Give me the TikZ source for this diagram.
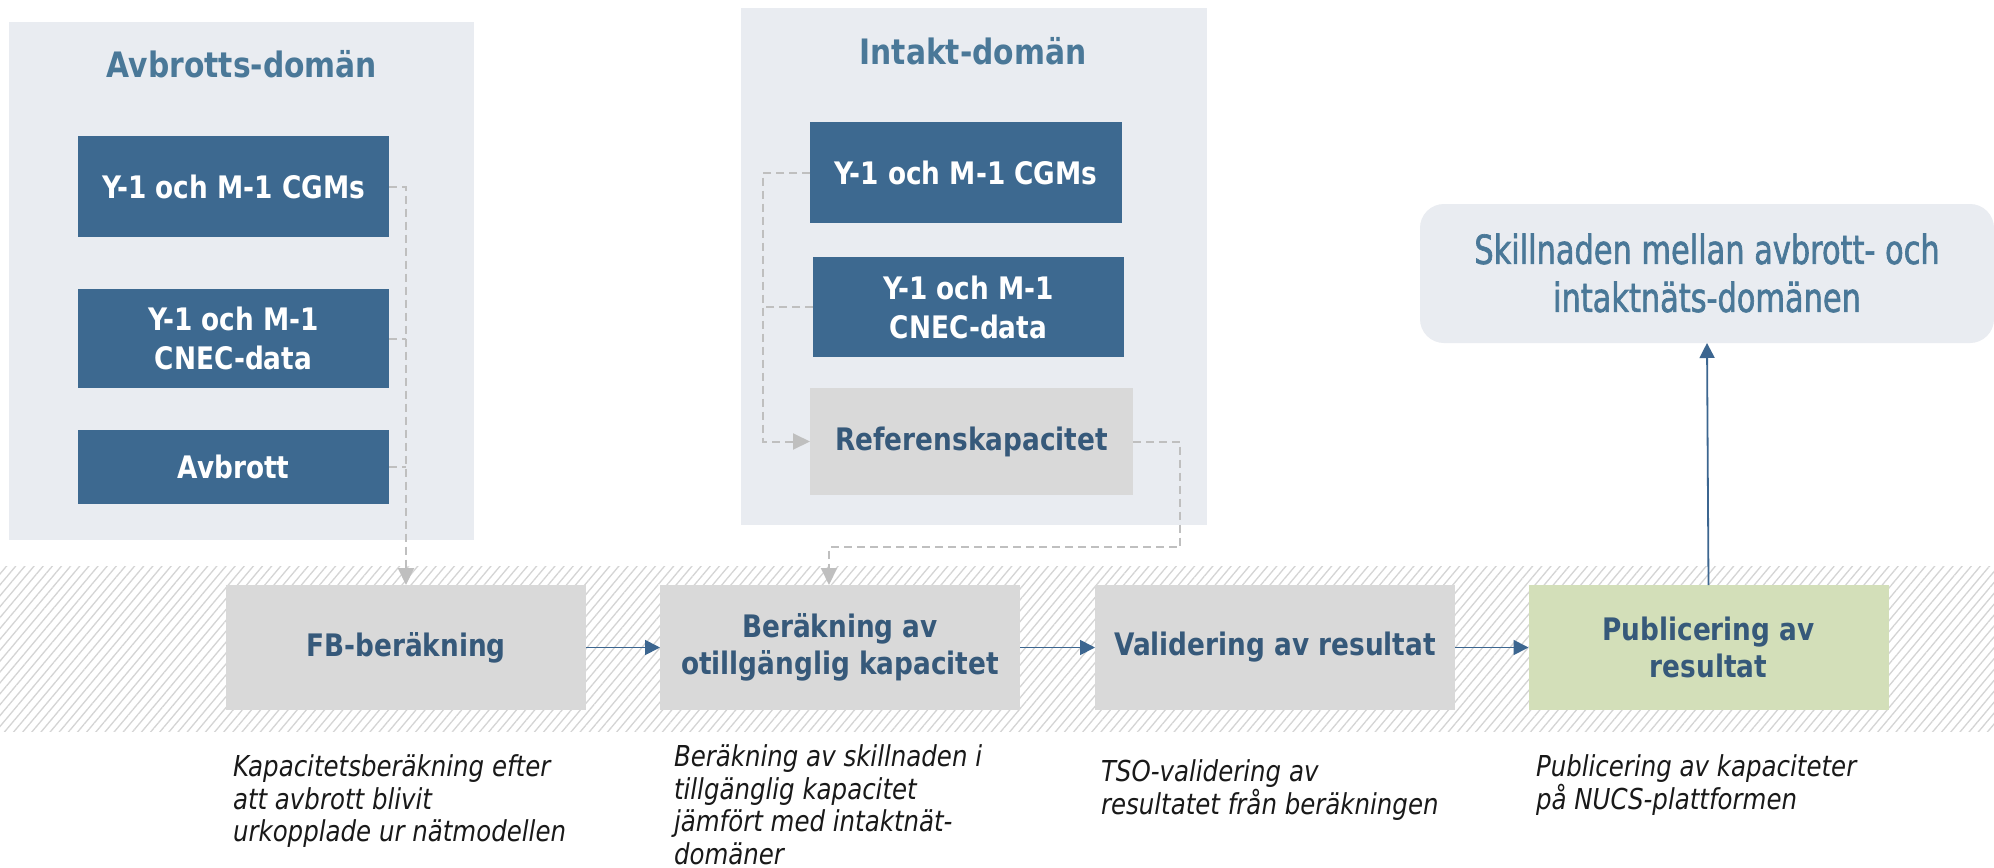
\documentclass[tikz,border=0pt]{standalone}
\usepackage{fontspec}
\setmainfont{DejaVu Sans}[FakeStretch=0.85]
\newfontfamily\skillfont{DejaVu Sans}[FakeStretch=0.76,FakeBold=1.6]
\usetikzlibrary{arrows.meta,patterns.meta}
\definecolor{dombg}{HTML}{E9ECF1}
\definecolor{boxblue}{HTML}{3D6990}
\definecolor{titleblue}{HTML}{4A7898}
\definecolor{proctext}{HTML}{36597A}
\definecolor{procgray}{HTML}{D9D9D9}
\definecolor{pubgreen}{HTML}{D3DFB9}
\definecolor{dashgray}{HTML}{BFBFBF}
\definecolor{arrowblue}{HTML}{3C6690}
\definecolor{hatchgray}{HTML}{D4D4D4}
\begin{document}
\begin{tikzpicture}[x=0.5pt,y=-0.5pt,
  every node/.style={inner sep=0pt, outer sep=0pt},
  dombox/.style={fill=dombg},
  domtitle/.style={text=titleblue, font=\fontsize{17.5}{21}\selectfont\bfseries},
  inbox/.style={fill=boxblue, text=white, font=\fontsize{15.5}{19.5}\selectfont\bfseries, align=center, minimum width=155.5pt},
  refbox/.style={fill=procgray, text=proctext, font=\fontsize{15.5}{19.5}\selectfont\bfseries, minimum width=161.5pt, minimum height=53.5pt},
  procbox/.style={fill=procgray, text=proctext, font=\fontsize{15.5}{18.5}\selectfont\bfseries, align=center, minimum width=180pt, minimum height=62.5pt},
  desc/.style={anchor=north west, align=left, text=black!90, font=\fontsize{14.4}{16.2}\selectfont\itshape},
  dashconn/.style={draw=dashgray, line width=1pt, dash pattern=on 4pt off 2.5pt},
  dasharrow/.style={dashconn, -{Triangle[length=8.5pt,width=8pt,fill=dashgray]}},
  flow/.style={draw=arrowblue, line width=0.9pt, -{Triangle[length=7.5pt,width=7.5pt,fill=arrowblue]}},
]
\fill[white] (0,0) rectangle (1994,868);
\useasboundingbox (0,0) rectangle (1994,868);

% hatched band
\path[pattern={Lines[angle=50,distance=3.5pt,line width=0.65pt]}, pattern color=hatchgray] (0,566) rectangle (1994,731);

% Avbrotts-domain
\node[dombox, minimum width=232.5pt, minimum height=259pt] (adom) at (241.5,281) {};
\node[domtitle] (atitle) at (242,64) {Avbrotts-domän};
\node[inbox, minimum height=50.5pt] (acgm) at (233.5,186.5) {Y-1 och M-1 CGMs};
\node[inbox, minimum height=49.5pt] (acnec) at (233.5,338.5) {Y-1 och M-1\\CNEC-data};
\node[inbox, minimum height=37pt] (aavb) at (233.5,467) {Avbrott};

% Intakt-domain
\node[dombox, minimum width=233pt, minimum height=258.5pt] (idom) at (974,266.5) {};
\node[domtitle] (ititle) at (973,51) {Intakt-domän};
\node[inbox, minimum width=156pt, minimum height=50.5pt] (icgm) at (966,172.5) {Y-1 och M-1 CGMs};
\node[inbox, minimum height=50pt] (icnec) at (968.5,307) {Y-1 och M-1\\CNEC-data};
\node[refbox] (ref) at (971.5,441.5) {Referenskapacitet};

% result box
\node[fill=dombg, rounded corners=12pt, minimum width=287pt, minimum height=69.5pt] (skillbox) at (1707,273.5) {};
\node[text=titleblue, font=\skillfont\fontsize{20}{24}\selectfont, align=center] (skill) at (1707,273) {Skillnaden mellan avbrott- och\\intaktnäts-domänen};

% process boxes
\node[procbox] (fb) at (406,647.5) {FB-beräkning};
\node[procbox] (ber) at (840,647.5) {Beräkning av\\otillgänglig kapacitet};
\node[procbox] (val) at (1275,647.5) {Validering av resultat};
\node[procbox, fill=pubgreen] (pub) at (1708.5,647.5) {Publicering av\\resultat};

% dashed connectors
\draw[dasharrow] (acgm.east) -| (fb.north);
\draw[dashconn] (acnec.east) -- (acnec.east -| fb.north);
\draw[dashconn] (aavb.east) -- (aavb.east -| fb.north);

\coordinate (ibus) at (763,173);
\draw[dasharrow] (icgm.west) -- (icgm.west -| ibus) |- (ref.west);
\draw[dashconn] (icnec.west) -- (icnec.west -| ibus);

\coordinate (rturn) at (1180,547);
\coordinate (bdrop) at (829,547);
\draw[dasharrow] (ref.east) -| (rturn) -- (bdrop) -- (bdrop |- ber.north);

% flow arrows
\draw[flow] (fb.east) -- (ber.west);
\draw[flow] (ber.east) -- (val.west);
\draw[flow] (val.east) -- (pub.west);
\draw[flow] (pub.north) -- (skillbox.south);

% descriptions
\node[desc] (dfb) at (233,755) {Kapacitetsberäkning efter\\att avbrott blivit\\urkopplade ur nätmodellen};
\node[desc] (dber) at (674,745) {Beräkning av skillnaden i\\tillgänglig kapacitet\\jämfört med intaktnät-\\domäner};
\node[desc] (dval) at (1101,760) {TSO-validering av\\resultatet från beräkningen};
\node[desc] (dpub) at (1536,755) {Publicering av kapaciteter\\på NUCS-plattformen};
\end{tikzpicture}
\end{document}
